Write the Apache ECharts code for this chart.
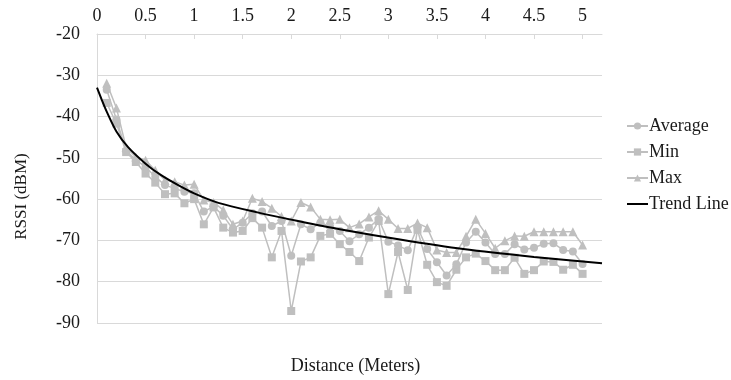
<!DOCTYPE html>
<html>
<head>
<meta charset="utf-8">
<title>RSSI vs Distance</title>
<script src="https://cdn.jsdelivr.net/npm/echarts@6/dist/echarts.min.js"></script>
<style>
  html, body { margin: 0; padding: 0; background: #fff; }
  #rssiChart { width: 731px; height: 380px; }
</style>
</head>
<body>
<div id="rssiChart"></div>
<script>
// distance in meters for each measurement
var distances = [0.1, 0.2, 0.3, 0.4, 0.5, 0.6, 0.7, 0.8, 0.9, 1.0,
                 1.1, 1.2, 1.3, 1.4, 1.5, 1.6, 1.7, 1.8, 1.9, 2.0,
                 2.1, 2.2, 2.3, 2.4, 2.5, 2.6, 2.7, 2.8, 2.9, 3.0,
                 3.1, 3.2, 3.3, 3.4, 3.5, 3.6, 3.7, 3.8, 3.9, 4.0,
                 4.1, 4.2, 4.3, 4.4, 4.5, 4.6, 4.7, 4.8, 4.9, 5.0];

var avgRssi = [-33.5, -40.7, -48.3, -50.5, -52.2, -54.6, -56.6, -57.4, -58.2, -58.6,
               -63.0, -61.8, -64.0, -67.3, -65.7, -63.4, -63.0, -66.5, -65.3, -73.7,
               -66.1, -67.3, -65.7, -66.7, -67.7, -70.2, -68.5, -66.9, -64.8, -70.3,
               -71.2, -72.4, -66.8, -72.1, -75.3, -78.5, -75.8, -70.5, -67.9, -70.5,
               -73.3, -73.3, -70.9, -72.2, -71.8, -70.8, -70.7, -72.3, -72.7, -75.7];

var minRssi = [-36.7, -41.7, -48.6, -51.0, -53.8, -56.0, -58.8, -58.6, -61.0, -60.0,
               -66.1, -62.0, -66.9, -68.1, -67.7, -64.6, -66.9, -74.1, -67.7, -87.1,
               -75.1, -74.1, -68.9, -68.4, -70.9, -72.8, -75.0, -69.3, -65.3, -83.0,
               -72.8, -82.0, -67.4, -75.9, -80.1, -81.0, -77.1, -74.1, -73.2, -75.0,
               -77.2, -77.2, -74.2, -78.1, -77.2, -75.1, -75.2, -77.1, -75.9, -78.1];

var maxRssi = [-31.9, -37.9, -47.5, -49.8, -50.6, -53.0, -55.4, -55.8, -56.6, -56.4,
               -60.2, -60.8, -62.6, -66.1, -65.3, -59.8, -60.6, -62.2, -64.2, -65.3,
               -60.8, -61.9, -64.9, -65.0, -64.9, -66.9, -66.0, -64.3, -62.8, -64.9,
               -67.1, -67.1, -65.8, -66.9, -72.3, -72.9, -72.9, -69.0, -64.9, -68.3,
               -71.9, -70.1, -68.9, -69.0, -67.9, -67.9, -67.9, -67.9, -67.9, -71.1];

// trend line at a few distances
var trendX = [0.0, 0.05, 0.1, 0.2, 0.32, 0.5, 0.66, 0.85, 1.0, 1.25, 1.65, 2.07, 2.5, 3.12, 3.77, 4.5, 5.2];
var trendY = [-33.0, -36.0, -38.8, -43.6, -47.4, -51.4, -54.2, -56.8, -58.6, -60.9, -63.2, -65.3, -67.3, -69.8, -72.1, -74.0, -75.5];

var xTicks = { min: 0, max: 5.2, step: 0.5 };
var yTicks = { min: -90, max: -20, step: 10 };

function pairs(xs, ys) {
  return xs.map(function (x, i) { return [x, ys[i]]; });
}

var chartDom = document.getElementById('rssiChart');
var myChart = echarts.init(chartDom);

var fontName = 'Liberation Serif';
var textColor = '#1a1a1a';
var gray = '#bfbfbf';
var gridGray = '#d9d9d9';

var option = {
  animation: false,
  textStyle: { fontFamily: fontName },
  grid: { left: 97, right: 129, top: 34, bottom: 52 },
  legend: {
    orient: 'vertical',
    left: 621,
    top: 112,
    itemWidth: 21,
    itemHeight: 9,
    itemGap: 8,
    data: ['Average', 'Min', 'Max', { name: 'Trend Line', itemStyle: { opacity: 0 } }],
    textStyle: { fontFamily: fontName, fontSize: 18, color: textColor, padding: [0, 0, 0, -4] }
  },
  xAxis: [
    {
      type: 'value',
      position: 'top',
      min: xTicks.min,
      max: xTicks.max,
      interval: xTicks.step,
      axisLine: { show: true, lineStyle: { color: gridGray } },
      axisTick: { show: true, inside: true, length: 5, lineStyle: { color: gridGray } },
      axisLabel: { showMaxLabel: false, margin: 9, fontFamily: fontName, fontSize: 18, color: textColor },
      splitLine: { show: false }
    },
    {
      type: 'value',
      position: 'bottom',
      min: xTicks.min,
      max: xTicks.max,
      name: 'Distance (Meters)',
      nameLocation: 'middle',
      nameGap: 34,
      nameTextStyle: { fontFamily: fontName, fontSize: 18, color: textColor, padding: [0, 0, 0, 12] },
      axisLine: { show: false },
      axisTick: { show: false },
      axisLabel: { show: false },
      splitLine: { show: false }
    }
  ],
  yAxis: {
    type: 'value',
    min: yTicks.min,
    max: yTicks.max,
    interval: yTicks.step,
    name: 'RSSI (dBM)',
    nameLocation: 'middle',
    nameGap: 67,
    nameTextStyle: { fontFamily: fontName, fontSize: 17, color: textColor, padding: [0, 36, 0, 0] },
    axisLine: { show: true, lineStyle: { color: gridGray } },
    axisTick: { show: false },
    axisLabel: { margin: 17, fontFamily: fontName, fontSize: 18, color: textColor },
    splitLine: { show: true, lineStyle: { color: gridGray } }
  },
  series: [
    {
      name: 'Average',
      type: 'line',
      data: pairs(distances, avgRssi),
      symbol: 'circle',
      symbolSize: 8,
      itemStyle: { color: gray },
      lineStyle: { color: gray, width: 1.5 },
      z: 3
    },
    {
      name: 'Min',
      type: 'line',
      data: pairs(distances, minRssi),
      symbol: 'rect',
      symbolSize: 8,
      itemStyle: { color: gray },
      lineStyle: { color: gray, width: 1.5 },
      z: 2
    },
    {
      name: 'Max',
      type: 'line',
      data: pairs(distances, maxRssi),
      symbol: 'triangle',
      symbolSize: 9,
      itemStyle: { color: gray },
      lineStyle: { color: gray, width: 1.5 },
      z: 2
    },
    {
      name: 'Trend Line',
      type: 'line',
      data: pairs(trendX, trendY),
      symbol: 'none',
      smooth: 0.3,
      itemStyle: { color: '#000' },
      lineStyle: { color: '#000', width: 2 },
      z: 5
    }
  ]
};

option && myChart.setOption(option);
window.addEventListener('resize', function () {
  myChart.resize();
});
</script>
</body>
</html>
